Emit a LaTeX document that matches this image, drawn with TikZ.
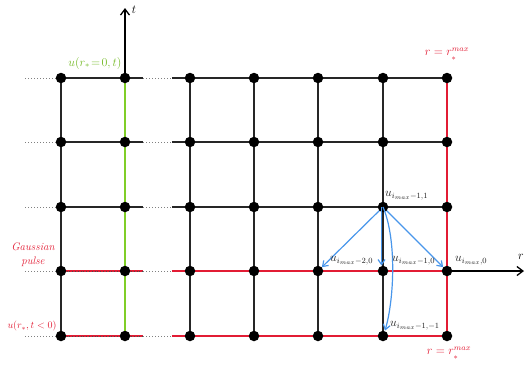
\documentclass[tikz,border=0pt]{standalone}
\usetikzlibrary{arrows.meta}
\definecolor{gridred}{RGB}{226,28,52}
\definecolor{gridgreen}{RGB}{128,206,40}
\definecolor{arrowblue}{RGB}{72,150,235}
\definecolor{labgray}{RGB}{30,30,30}
\begin{document}
\begin{tikzpicture}[x=1pt,y=-1pt,
  dot/.style={circle,fill=black,inner sep=0pt,minimum size=10.5pt},
  gridline/.style={line width=1.7pt,black!85},
  redline/.style={line width=2.4pt,gridred},
  redover/.style={line width=0.8pt,black!70,dotted},
  greenline/.style={line width=2.4pt,gridgreen},
  dotline/.style={line width=1pt,gray,dotted},
  axis/.style={line width=1.3pt,-{Straight Barb[length=6pt,width=9pt,line width=1.3pt]}},
  blue arrow/.style={line width=1.2pt,arrowblue,-{Straight Barb[length=5pt,width=7pt]}},
  redlab/.style={text=gridred,font=\large},
  ulab/.style={text=labgray,anchor=west,inner sep=0pt,font=\large}]
\useasboundingbox (0,0) rectangle (526,365);
% coordinates
\foreach \c/\x in {1/61,2/125,3/190,4/254,5/318,6/383,7/447}{
  \foreach \r/\y in {1/78,2/142,3/207,4/271,5/336}{
    \coordinate (p-\c-\r) at (\x,\y);
  }
}
% free ends of horizontal pieces
\foreach \r/\y in {1/78,2/142,3/207,4/271,5/336}{
  \coordinate (l-\r) at (25,\y);
  \coordinate (a-\r) at (143,\y);
  \coordinate (b-\r) at (172,\y);
}
% dotted pieces
\foreach \r in {1,...,5}{
  \draw[dotline] (l-\r) -- (p-1-\r);
  \draw[dotline] (a-\r) -- (b-\r);
}
% vertical lines
\foreach \c in {1,3,4,5,6}{
  \draw[gridline] (p-\c-1) -- (p-\c-5);
}
\draw[greenline] (p-2-1) -- (p-2-5);
% horizontal lines black rows
\foreach \r in {1,2,3}{
  \draw[gridline] (p-1-\r) -- (a-\r);
  \draw[gridline] (b-\r) -- (p-7-\r);
}
% red rows
\foreach \r in {4,5}{
  \draw[redline] (p-1-\r) -- (a-\r);
  \draw[redover] (p-1-\r) -- (a-\r);
  \draw[redline] (b-\r) -- (p-7-\r);
}
\draw[redline] (p-7-1) -- (p-7-5);
% axes
\coordinate (ttip) at (125,8);
\coordinate (rtip) at (524,271);
\draw[axis] (p-2-1) -- (ttip);
\draw[axis] (p-7-4) -- (rtip);
\node[font=\large] at (134,10) {$t$};
\node[font=\large] at (521,257) {$r$};
% dots
\foreach \c in {1,...,7}{
  \foreach \r in {1,...,5}{
    \node[dot] (n-\c-\r) at (p-\c-\r) {};
  }
}
% blue arrows
\draw[blue arrow] (n-6-3) -- (n-5-4);
\draw[blue arrow] (n-6-3) -- (n-7-4);
\draw[blue arrow] ([xshift=-1.5pt]n-6-3.center) -- ([xshift=-1.5pt]n-6-4.north);
\draw[blue arrow] (n-6-3.center) .. controls (397,240) and (394,300) .. ([xshift=2pt]n-6-5.north);
% labels
\node[text=gridgreen!90!black,font=\large] at (95,63) {$u(r_\ast\!=\!0,t)$};
\node[redlab] at (447,54) {$r=r^{max}_{\lower2pt\hbox{$\scriptstyle\ast$}}$};
\node[redlab] at (449,353) {$r=r^{max}_{\lower2pt\hbox{$\scriptstyle\ast$}}$};
\node[redlab,align=center,font=\fontsize{11}{14}\selectfont\itshape,inner sep=0pt] at (33,255) {Gaussian\\pulse};
\node[redlab,font=\normalsize] at (32,326) {$u(r_\ast,t<0)$};
\node[ulab] at (385,196) {$u_{i_{max}-1,1}$};
\node[ulab] at (330,261) {$u_{i_{max}-2,0}$};
\node[ulab] at (392,261) {$u_{i_{max}-1,0}$};
\node[ulab] at (455,261) {$u_{i_{max},0}$};
\node[ulab] at (390,326) {$u_{i_{max}-1,-1}$};
\end{tikzpicture}
\end{document}
